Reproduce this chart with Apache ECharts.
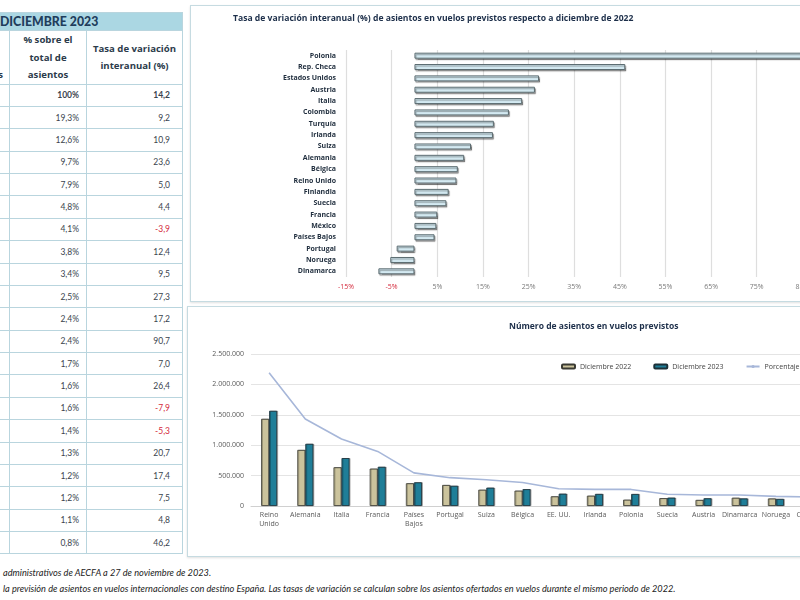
<!DOCTYPE html>
<html>
<head>
<meta charset="utf-8">
<script src="https://cdn.jsdelivr.net/npm/echarts@6/dist/echarts.min.js"></script>
<style>
  html, body { margin: 0; padding: 0; }
  body { width: 800px; height: 600px; overflow: hidden; position: relative; background: #fff; font-family: Lato, sans-serif; }
  #tabla { position: absolute; left: -60px; top: 12px; border-collapse: collapse; table-layout: fixed; width: 242px; }
  #tabla td, #tabla th { border: 1px solid #b9d5de; padding: 0; color: #3a444e; }
  #tabla .top { background: #abd7e3; height: 17px; line-height: 17px; text-align: left; padding-left: 59px; font-size: 12.3px; font-weight: 900; color: #1f3d5c; }
  #tabla .head th { height: 49px; font-family: 'Open Sans', sans-serif; font-size: 9.6px; font-weight: bold; color: #2b3b4b; line-height: 17.5px; text-align: center; }
  #tabla .head th.c1 { text-align: right; padding-right: 6px; vertical-align: bottom; padding-bottom: 0; }
  #tabla tbody td { height: 21.38px; line-height: 12px; font-size: 8.5px; text-align: right; }
  #tabla tbody td.c2 { padding-right: 7px; }
  #tabla tbody td.c3 { padding-right: 12px; }
  #tabla tbody tr.total td { font-weight: bold; }
  #tabla .neg { color: #d42a3c; }
  .panel { position: absolute; border: 1px solid #c6dbe1; box-shadow: 0 1px 2px rgba(0,0,0,.12); background: #fff; }
  #rate { left: 190px; top: 5px; width: 680px; height: 295px; }
  #seats { left: 187px; top: 306px; width: 800px; height: 249px; }
  .note { position: absolute; left: 3px; font-style: italic; font-size: 9.2px; color: #222; white-space: nowrap; }
</style>
</head>
<body>
<table id="tabla">
  <colgroup><col style="width:69px"><col style="width:77px"><col style="width:96px"></colgroup>
  <thead>
    <tr><th class="top" colspan="3">DICIEMBRE 2023</th></tr>
    <tr class="head">
      <th class="c1">asientos</th>
      <th>% sobre el<br>total de<br>asientos</th>
      <th>Tasa de variación<br>interanual (%)</th>
    </tr>
  </thead>
  <tbody id="filas"></tbody>
</table>

<div id="rate" class="panel"></div>
<div id="seats" class="panel"></div>

<div class="note" style="top:567px">administrativos de AECFA a 27 de noviembre de 2023.</div>
<div class="note" style="top:583px">la previsión de asientos en vuelos internacionales con destino España. Las tasas de variación se calculan sobre los asientos ofertados en vuelos durante el mismo periodo de 2022.</div>

<script>
// tabla y gráfico de barras verticales (orden por cuota)
const seatCountries = ['Reino\nUnido', 'Alemania', 'Italia', 'Francia', 'Países\nBajos', 'Portugal', 'Suiza', 'Bélgica', 'EE. UU.', 'Irlanda',
  'Polonia', 'Suecia', 'Austria', 'Dinamarca', 'Noruega', 'Colombia', 'Turquía', 'Finlandia', 'México', 'Rep.\nCheca']
const shares = [19.3, 12.6, 9.7, 7.9, 4.8, 4.1, 3.8, 3.4, 2.5, 2.4, 2.4, 1.7, 1.6, 1.6, 1.4, 1.3, 1.2, 1.2, 1.1, 0.8]
const tableRates = [9.2, 10.9, 23.6, 5.0, 4.4, -3.9, 12.4, 9.5, 27.3, 17.2, 90.7, 7.0, 26.4, -7.9, -5.3, 20.7, 17.4, 7.5, 4.8, 46.2]
const totalShare = 100
const totalRate = 14.2
const seats2022 = [1434000, 923000, 637000, 615000, 374000, 346000, 268000, 253000, 159000, 170000,
  104000, 129000, 100000, 136000, 124000, 87000, 83000, 90000, 85000, 44000]
const seats2023 = [1566000, 1023000, 788000, 645000, 390000, 333000, 302000, 277000, 203000, 199000,
  198000, 138000, 127000, 125000, 117000, 105000, 97000, 97000, 89000, 65000]

// gráfico de tasas (orden descendente)
const rateCountries = ['Polonia', 'Rep. Checa', 'Estados Unidos', 'Austria', 'Italia', 'Colombia', 'Turquía', 'Irlanda', 'Suiza', 'Alemania',
  'Bélgica', 'Reino Unido', 'Finlandia', 'Suecia', 'Francia', 'México', 'Países Bajos', 'Portugal', 'Noruega', 'Dinamarca']
const rates = [90.7, 46.2, 27.3, 26.4, 23.6, 20.7, 17.4, 17.2, 12.4, 10.9, 9.5, 9.2, 7.5, 7.0, 5.0, 4.8, 4.4, -3.9, -5.3, -7.9]

const coma = v => v.toFixed(1).replace('.', ',')
const puntos = v => String(v).replace(/\B(?=(\d{3})+(?!\d))/g, '.')

// filas de la tabla
let html = '<tr class="total"><td></td><td class="c2">' + totalShare + '%</td><td class="c3">' + coma(totalRate) + '</td></tr>'
shares.forEach((s, i) => {
  const r = tableRates[i]
  html += '<tr><td></td><td class="c2">' + coma(s) + '%</td><td class="c3' + (r < 0 ? ' neg' : '') + '">' + coma(r) + '</td></tr>'
})
document.getElementById('filas').innerHTML = html

const rateChart = echarts.init(document.getElementById('rate'))
rateChart.setOption({
  animation: false,
  title: {
    text: 'Tasa de variación interanual (%) de asientos en vuelos previstos respecto a diciembre de 2022',
    left: 37,
    top: 3,
    textStyle: { fontSize: 8.6, fontWeight: 'bold', color: '#1d2f4a', fontFamily: 'Open Sans' }
  },
  grid: { left: 155, right: 23, top: 44, bottom: 24 },
  xAxis: {
    type: 'value',
    min: -15,
    max: 95,
    interval: 10,
    axisLine: { show: false },
    axisTick: { show: false },
    splitLine: { lineStyle: { color: '#dedede', width: 1.2 } },
    axisLabel: {
      formatter: v => v + '%',
      fontSize: 7,
      margin: 6,
      fontFamily: 'Open Sans',
      color: v => (v < 0 ? '#d42a3c' : '#7a7a7a')
    }
  },
  yAxis: {
    type: 'category',
    inverse: true,
    data: rateCountries,
    axisLine: { show: false },
    axisTick: { show: false },
    axisLabel: { fontSize: 7, fontWeight: 'bold', color: '#1f2d3d', margin: 10, fontFamily: 'Open Sans' }
  },
  series: [{
    type: 'bar',
    data: rates,
    barWidth: 6,
    itemStyle: {
      color: '#d4eaf2',
      borderColor: '#5b6b70',
      borderWidth: 1,
      shadowColor: 'rgba(0,0,0,0.35)',
      shadowOffsetX: 1,
      shadowOffsetY: 1.5,
      shadowBlur: 1
    }
  }]
})

const seatChart = echarts.init(document.getElementById('seats'))
seatChart.setOption({
  animation: false,
  title: {
    text: 'Número de asientos en vuelos previstos',
    left: 316,
    top: 10,
    textStyle: { fontSize: 8.5, fontWeight: 'bold', color: '#1d2f4a', fontFamily: 'Open Sans' }
  },
  legend: {
    left: 368,
    top: 51,
    itemWidth: 13,
    itemHeight: 4,
    itemGap: 22,
    textStyle: { fontSize: 7, color: '#444', fontFamily: 'Open Sans' },
    data: ['Diciembre 2022', 'Diciembre 2023', 'Porcentaje sobre el total']
  },
  grid: { left: 63, right: 13, top: 47, bottom: 50 },
  xAxis: {
    type: 'category',
    data: seatCountries,
    axisLine: { lineStyle: { color: '#d0d0d0' } },
    axisTick: { show: false },
    axisLabel: { interval: 0, fontSize: 7, color: '#595959', margin: 4, lineHeight: 9, fontFamily: 'Open Sans' }
  },
  yAxis: [{
    type: 'value',
    min: 0,
    max: 2500000,
    interval: 500000,
    axisLine: { show: false },
    axisTick: { show: false },
    splitLine: { lineStyle: { color: '#e4e4e4', width: 1.2 } },
    axisLabel: { formatter: puntos, fontSize: 7, color: '#595959', margin: 7, fontFamily: 'Open Sans' }
  }, {
    type: 'value',
    min: 0,
    max: 22,
    show: false,
    splitLine: { show: false }
  }],
  series: [{
    name: 'Diciembre 2022',
    type: 'bar',
    data: seats2022,
    barWidth: 8,
    barGap: '0%',
    itemStyle: { color: '#cbc39c', borderColor: '#3a3a32', borderWidth: 0.8, shadowColor: 'rgba(0,0,0,0.3)', shadowOffsetX: 1, shadowOffsetY: 0 }
  }, {
    name: 'Diciembre 2023',
    type: 'bar',
    data: seats2023,
    barWidth: 8,
    itemStyle: { color: '#1f7e98', borderColor: '#1c3038', borderWidth: 0.8, shadowColor: 'rgba(0,0,0,0.3)', shadowOffsetX: 1, shadowOffsetY: 0 }
  }, {
    name: 'Porcentaje sobre el total',
    type: 'line',
    yAxisIndex: 1,
    data: shares,
    symbol: 'none',
    lineStyle: { color: '#a7b7d9', width: 1.6 },
    itemStyle: { color: '#a7b7d9' }
  }]
})
</script>
</body>
</html>
